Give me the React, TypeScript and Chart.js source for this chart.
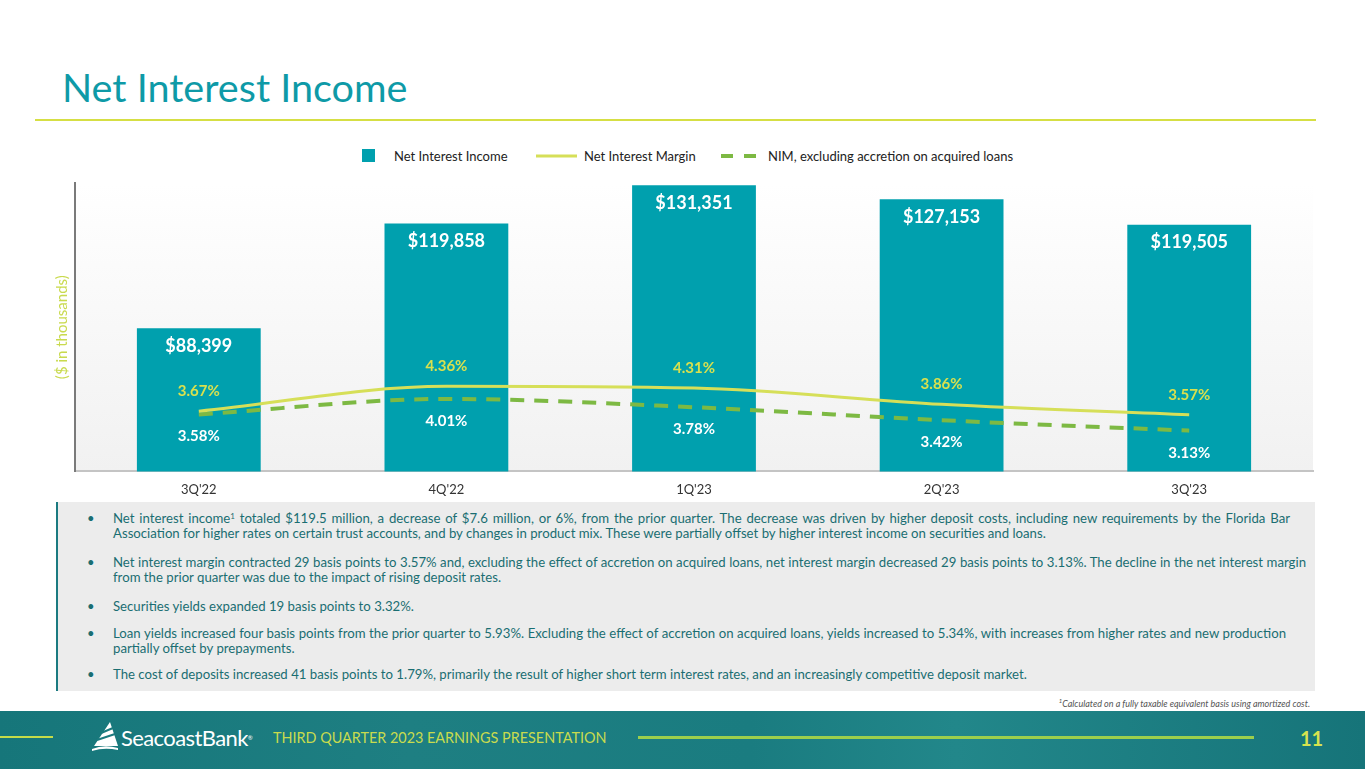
import React, { useEffect, useRef } from "react";
import { Chart, registerables } from "chart.js";

Chart.register(...registerables);

// ---- data ----
const categories = ["3Q'22", "4Q'22", "1Q'23", "2Q'23", "3Q'23"];
const netInterestIncome = [88399, 119858, 131351, 127153, 119505];
const netInterestMargin = [3.67, 4.36, 4.31, 3.86, 3.57];
const nimExAccretion = [3.58, 4.01, 3.78, 3.42, 3.13];

const seriesNames = ["Net Interest Income", "Net Interest Margin", "NIM, excluding accretion on acquired loans"];

const TEAL = "#00a0ae";
const LIME = "#d6df58";
const LIME_TEXT = "#d9e04e";
const GREEN = "#7db943";
const TEXT_TEAL = "#1a6e72";
const FONT = "Lato, 'Open Sans', sans-serif";

const bgPlugin = {
  id: "plotBg",
  beforeDraw(chart: any) {
    const { ctx, chartArea } = chart;
    if (!chartArea) return;
    const g = ctx.createLinearGradient(0, chartArea.top, 0, chartArea.bottom);
    g.addColorStop(0, "#ffffff");
    g.addColorStop(1, "#f1f1f1");
    ctx.save();
    ctx.fillStyle = g;
    ctx.fillRect(chartArea.left, chartArea.top, chartArea.right - chartArea.left, chartArea.bottom - chartArea.top);
    ctx.restore();
  },
};

const labelPlugin = {
  id: "valueLabels",
  afterDatasetsDraw(chart: any) {
    const ctx = chart.ctx;
    ctx.save();
    ctx.textAlign = "center";
    ctx.textBaseline = "middle";
    const bars = chart.getDatasetMeta(0).data;
    bars.forEach((el: any, i: number) => {
      ctx.font = `bold 18px ${FONT}`;
      ctx.fillStyle = "#ffffff";
      ctx.fillText("$" + netInterestIncome[i].toLocaleString("en-US"), el.x, el.y + 18);
    });
    const nim = chart.getDatasetMeta(1).data;
    nim.forEach((el: any, i: number) => {
      ctx.font = `bold 15px ${FONT}`;
      ctx.fillStyle = LIME_TEXT;
      ctx.fillText(netInterestMargin[i].toFixed(2) + "%", el.x, el.y - 20);
    });
    const ex = chart.getDatasetMeta(2).data;
    ex.forEach((el: any, i: number) => {
      ctx.font = `bold 15px ${FONT}`;
      ctx.fillStyle = "#ffffff";
      ctx.fillText(nimExAccretion[i].toFixed(2) + "%", el.x, el.y + 22);
    });
    ctx.restore();
  },
};

function NIChart() {
  const ref = useRef<HTMLCanvasElement | null>(null);
  useEffect(() => {
    if (!ref.current) return;
    const chart = new Chart(ref.current, {
      type: "bar",
      data: {
        labels: categories,
        datasets: [
          {
            type: "bar",
            label: seriesNames[0],
            data: netInterestIncome,
            backgroundColor: TEAL,
            barPercentage: 1,
            categoryPercentage: 0.5,
            yAxisID: "y",
            order: 3,
          } as any,
          {
            type: "line",
            label: seriesNames[1],
            data: netInterestMargin,
            borderColor: LIME,
            borderWidth: 3,
            pointRadius: 0,
            cubicInterpolationMode: "monotone",
            yAxisID: "y1",
            order: 1,
          },
          {
            type: "line",
            label: seriesNames[2],
            data: nimExAccretion,
            borderColor: GREEN,
            borderWidth: 4,
            borderDash: [14, 10],
            pointRadius: 0,
            cubicInterpolationMode: "monotone",
            yAxisID: "y1",
            order: 2,
          },
        ],
      },
      options: {
        animation: false,
        responsive: true,
        maintainAspectRatio: false,
        layout: { padding: { left: 49, right: 52, top: 13, bottom: 1 } },
        plugins: { legend: { display: false }, tooltip: { enabled: false } },
        scales: {
          x: {
            grid: { display: false, drawTicks: false },
            border: { display: true, color: "#c4c4c4", width: 2 },
            ticks: { color: "#333333", font: { family: FONT, size: 13 }, padding: 11 },
          },
          y: {
            position: "left",
            min: 45500,
            max: 132000,
            grid: { display: false, drawTicks: false },
            border: { display: true, color: "#7a7a7a", width: 2 },
            ticks: { display: false },
            title: {
              display: true,
              text: "($ in thousands)",
              color: "#c9da4e",
              font: { family: FONT, size: 15 },
            },
          },
          y1: {
            position: "right",
            min: 2,
            max: 10,
            display: false,
            grid: { display: false },
          },
        },
      },
      plugins: [bgPlugin, labelPlugin],
    });
    return () => chart.destroy();
  }, []);
  return <canvas ref={ref} style={{ width: "100%", height: "100%" }} />;
}

const bulletLines: string[][] = [
  [
    "Net interest income|1| totaled $119.5 million, a decrease of $7.6 million, or 6%, from the prior quarter. The decrease was driven by higher deposit costs, including new requirements by the Florida Bar",
    "Association for higher rates on certain trust accounts, and by changes in product mix. These were partially offset by higher interest income on securities and loans.",
  ],
  [
    "Net interest margin contracted 29 basis points to 3.57% and, excluding the effect of accretion on acquired loans, net interest margin decreased 29 basis points to 3.13%. The decline in the net interest margin",
    "from the prior quarter was due to the impact of rising deposit rates.",
  ],
  ["Securities yields expanded 19 basis points to 3.32%."],
  [
    "Loan yields increased four basis points from the prior quarter to 5.93%. Excluding the effect of accretion on acquired loans, yields increased to 5.34%, with increases from higher rates and new production",
    "partially offset by prepayments.",
  ],
  ["The cost of deposits increased 41 basis points to 1.79%, primarily the result of higher short term interest rates, and an increasingly competitive deposit market."],
];
const bulletTops = [511, 555, 599, 626, 667];
// right edge of justified (non-final) lines
const justifyEnds = [1290, 1306, 0, 1286, 0];

function renderLine(s: string) {
  const parts = s.split("|");
  if (parts.length === 1) return s;
  return (
    <>
      {parts[0]}
      <sup style={{ fontSize: 8, verticalAlign: "top", lineHeight: "10px" }}>{parts[1]}</sup>
      {parts[2]}
    </>
  );
}

export default function App() {
  return (
    <div
      style={{
        position: "fixed",
        left: 0,
        top: 0,
        width: 1365,
        height: 769,
        overflow: "hidden",
        background: "#ffffff",
        fontFamily: FONT,
      }}
    >
      {/* title */}
      <div style={{ position: "absolute", left: 62, top: 62, fontSize: 39.6, color: "#0e9aa7", lineHeight: "50px", whiteSpace: "nowrap" }}>
        Net Interest Income
      </div>
      <div style={{ position: "absolute", left: 35, top: 119, width: 1281, height: 2, background: "#d6df44" }} />

      {/* legend */}
      <div style={{ position: "absolute", left: 362, top: 149, width: 13, height: 13, background: TEAL }} />
      <div style={{ position: "absolute", left: 394, top: 147, fontSize: 13, lineHeight: "18px", color: "#222", whiteSpace: "nowrap" }}>{seriesNames[0]}</div>
      <svg style={{ position: "absolute", left: 534, top: 150 }} width={46} height={12}>
        <line x1={2} y1={6} x2={43} y2={6} stroke={LIME} strokeWidth={3} />
      </svg>
      <div style={{ position: "absolute", left: 584, top: 147, fontSize: 13, lineHeight: "18px", color: "#222", whiteSpace: "nowrap" }}>{seriesNames[1]}</div>
      <svg style={{ position: "absolute", left: 719, top: 150 }} width={40} height={12}>
        <line x1={2} y1={6} x2={37} y2={6} stroke={GREEN} strokeWidth={4} strokeDasharray="12 11" />
      </svg>
      <div style={{ position: "absolute", left: 768, top: 147, fontSize: 13, lineHeight: "18px", color: "#222", whiteSpace: "nowrap" }}>{seriesNames[2]}</div>

      {/* chart */}
      <div style={{ position: "absolute", left: 0, top: 170, width: 1365, height: 340 }}>
        <NIChart />
      </div>

      {/* bullets box */}
      <div style={{ position: "absolute", left: 56, top: 502, width: 1257, height: 189, background: "#ececec", borderLeft: "2px solid #1b7a80" }} />
      {bulletLines.map((lines, bi) => (
        <div key={bi} style={{ position: "absolute", left: 0, top: bulletTops[bi], width: 1365 }}>
          <div style={{ position: "absolute", left: 87, top: 0, fontSize: 13, lineHeight: "15px", color: TEXT_TEAL }}>•</div>
          {lines.map((ln, li) => {
            const justified = li < lines.length - 1 && justifyEnds[bi] > 0;
            return (
              <div
                key={li}
                style={{
                  position: "absolute",
                  left: 113,
                  top: li * 15,
                  width: justified ? justifyEnds[bi] - 113 : undefined,
                  fontSize: 13.2,
                  lineHeight: "15px",
                  color: TEXT_TEAL,
                  whiteSpace: justified ? "normal" : "nowrap",
                  textAlign: justified ? "justify" : "left",
                  textAlignLast: justified ? "justify" : "auto",
                  height: 15,
                  overflow: "visible",
                } as any}
              >
                {renderLine(ln)}
              </div>
            );
          })}
        </div>
      ))}

      {/* footnote */}
      <div style={{ position: "absolute", right: 55, top: 695, fontSize: 9, lineHeight: "12px", color: "#555", fontStyle: "italic", whiteSpace: "nowrap" }}>
        <sup style={{ fontSize: 6 }}>1</sup>Calculated on a fully taxable equivalent basis using amortized cost.
      </div>

      {/* footer */}
      <div
        style={{
          position: "absolute",
          left: 0,
          top: 711,
          width: 1365,
          height: 58,
          background: "linear-gradient(90deg, #16767a 0%, #1e7f82 30%, #1a7c80 55%, #22878a 70%, #167479 100%)",
        }}
      />
      <div style={{ position: "absolute", left: 0, top: 736, width: 53, height: 2, background: "#c5dc48" }} />
      <svg style={{ position: "absolute", left: 88, top: 720 }} width={32} height={32}>
        <path d="M22 2 L6 26 L30 26 Z" fill="#ffffff" />
        <path d="M4 29 Q16 24 30 28 L30 30 Q16 27 4 31 Z" fill="#ffffff" />
        <path d="M9 20 L27 14" stroke="#1a7a7e" strokeWidth={2} />
        <path d="M13 13 L25 8" stroke="#1a7a7e" strokeWidth={2} />
      </svg>
      <div style={{ position: "absolute", left: 121, top: 725, fontSize: 22, lineHeight: "26px", color: "#ffffff", whiteSpace: "nowrap", letterSpacing: -0.6 }}>
        SeacoastBank
        <span style={{ fontSize: 6, verticalAlign: "top" }}>®</span>
      </div>
      <div style={{ position: "absolute", left: 273, top: 729, fontSize: 14.4, lineHeight: "18px", color: "#c8db4e", whiteSpace: "nowrap" }}>
        THIRD QUARTER 2023 EARNINGS PRESENTATION
      </div>
      <div style={{ position: "absolute", left: 638, top: 736, width: 616, height: 3, background: "#9ccf4c" }} />
      <div style={{ position: "absolute", left: 1300, top: 726, fontSize: 20, fontWeight: "bold", lineHeight: "24px", color: "#d7e34f" }}>11</div>
    </div>
  );
}
